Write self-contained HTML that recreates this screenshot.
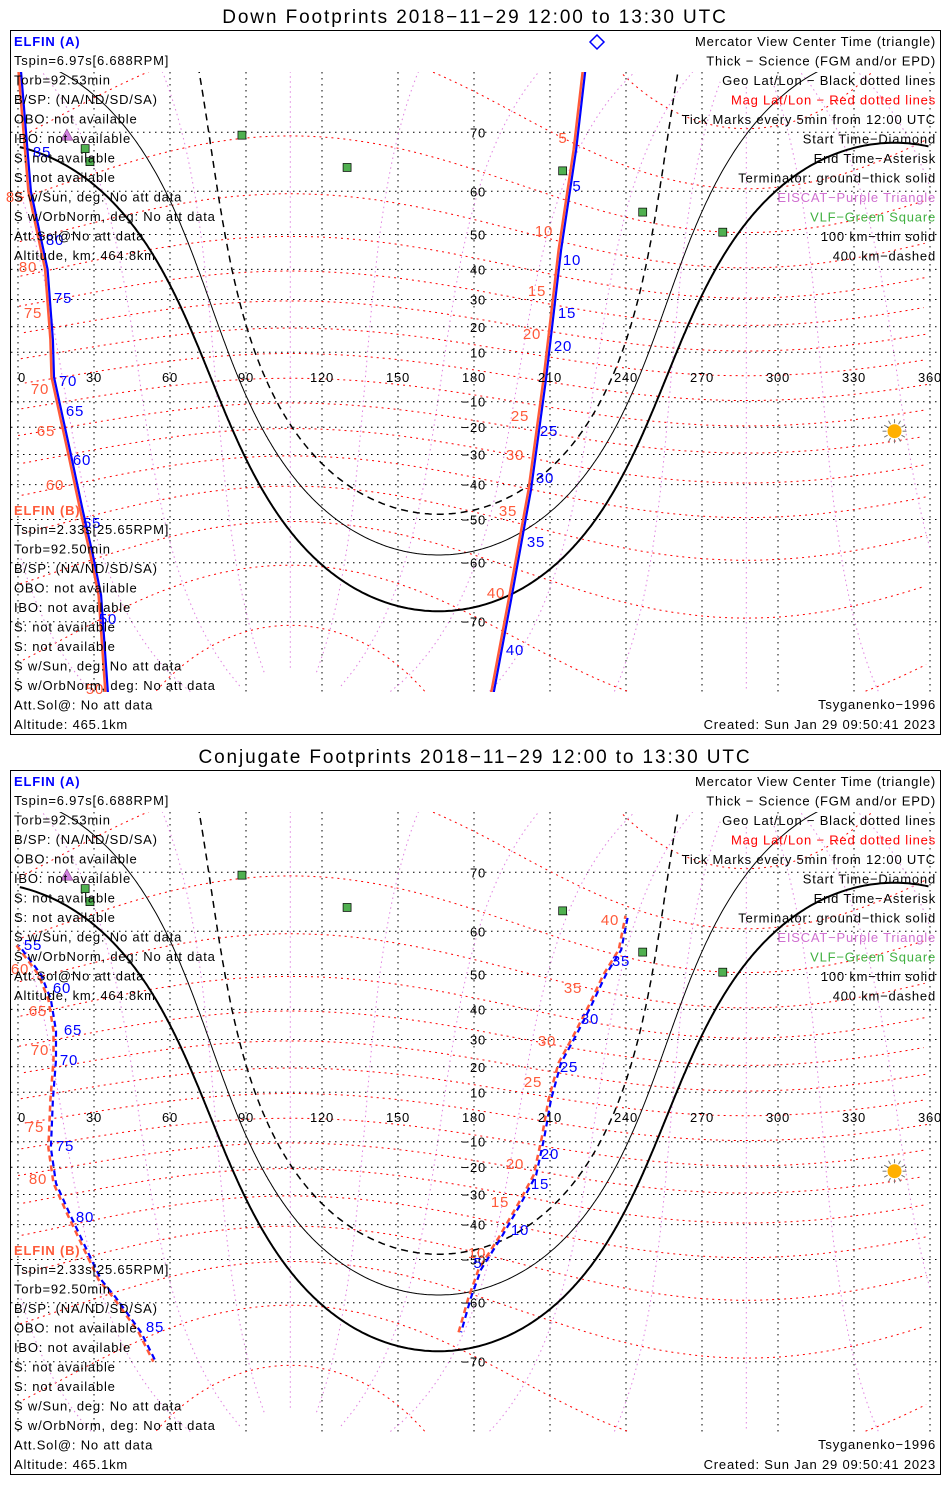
<!DOCTYPE html>
<html><head><meta charset="utf-8"><style>
body{margin:0;background:#fff;}
svg{display:block;font-family:"Liberation Sans",sans-serif;}
.t{font-size:13px;letter-spacing:0.8px;}
</style></head><body>
<svg id="s" width="950" height="1500" viewBox="0 0 950 1500"></svg>
<script>
// ---- data ----
const lonTicks=[0,30,60,90,120,150,180,210,240,270,300,330,360];
const latTicks=[-70,-60,-50,-40,-30,-20,-10,10,20,30,40,50,60,70];
const downALon=[0,4.7,11.3,13.4,13.8,17,20.5,25.3,29,32.4,35.5];
const downALat=[79,60,40,15,0,-15,-30,-48,-58,-66,-79];
const downBLon=[186.3,194.2,202.1,208,214,219.9,224.6];
const downBLat=[-79,-66.8,-41.6,-1.2,45.8,67.4,79];
const conjALon=[0,8.7,12.6,14.6,14.6,13.4,12.6,14.6,19.7,26.5,32.4,38.3,48.2,54];
const conjALat=[57,50,43,33,22.5,7,-12.5,-26,-36,-47,-55,-59,-65.5,-70];
const conjBLon=[174.5,178.4,182.4,190.3,198.2,204.1,207.3,210,214,219.9,225.8,231.7,237.7,240.4];
const conjBLat=[-65.5,-59,-52.5,-44,-33,-23,-8.5,7,21.5,31.5,41,50,56,63];
const vlfLon=[88.4,26.5,28.4,129.9,215,246.6,278.2];
const vlfLat=[69.6,67.6,65.5,64.5,63.9,55.5,50.6];
const eiscatLon=[19.7,19.3];
const eiscatLat=[78.5,69.6];
const sunLon=346, sunLat=-21.5;
const poleLat=80.5, poleLon=287.5;

const S=document.getElementById('s');
const NS='http://www.w3.org/2000/svg';
function el(t,a,p){const e=document.createElementNS(NS,t);for(const k in a)e.setAttribute(k,a[k]);(p||S).appendChild(e);return e;}
const R=Math.PI/180;
const X=lon=>18+lon*912/360;
function Y(lat,dy){lat=Math.max(-85,Math.min(85,lat));return dy+377-141*Math.log(Math.tan(Math.PI/4+lat*R/2));}
function pathFrom(pts,dy){let d='',prev=null;for(const[lo,la]of pts){let l=((lo%360)+360)%360;const x=X(l),y=Y(la,dy);d+=(prev===null||Math.abs(x-prev)>400)?`M${x.toFixed(1)},${y.toFixed(1)}`:`L${x.toFixed(1)},${y.toFixed(1)}`;prev=x;}return d;}
function mag2geo(mla,mlo){const th=(90-poleLat)*R;let x=Math.cos(mla*R)*Math.cos(mlo*R),y=Math.cos(mla*R)*Math.sin(mlo*R),z=Math.sin(mla*R);
 const x1=x*Math.cos(th)+z*Math.sin(th),z1=-x*Math.sin(th)+z*Math.cos(th);const lp=poleLon*R;
 const x2=x1*Math.cos(lp)-y*Math.sin(lp),y2=x1*Math.sin(lp)+y*Math.cos(lp);return [Math.atan2(y2,x2)/R,Math.asin(z1)/R];}
function termPts(dip){const aLat=-sunLat*R,aLon=(sunLon+180)*R,r=(90-dip)*R,pts=[];
 for(let i=0;i<=720;i++){const t=i/720*2*Math.PI;const la=Math.asin(Math.sin(aLat)*Math.cos(r)+Math.cos(aLat)*Math.sin(r)*Math.cos(t));
 const lo=aLon+Math.atan2(Math.sin(t)*Math.sin(r)*Math.cos(aLat),Math.cos(r)-Math.sin(aLat)*Math.sin(la));pts.push([lo/R,la/R]);}
 pts.sort((a,b)=>(((a[0]%360)+360)%360)-(((b[0]%360)+360)%360));return pts;}
function txt(x,y,s,a,p,c){const e=el('text',Object.assign({x,y,class:'t'},a||{}),p);e.style.fill=c||'#000';e.textContent=s;return e;}

const leftA=["Tspin=6.97s[6.688RPM]","Torb=92.53min","B/SP: (NA/ND/SD/SA)","OBO: not available","IBO: not available","S: not available","S: not available","S w/Sun, deg: No att data","S w/OrbNorm, deg: No att data","Att.Sol@No att data","Altitude, km: 464.8km"];
const leftB=["Tspin=2.33s[25.65RPM]","Torb=92.50min","B/SP: (NA/ND/SD/SA)","OBO: not available","IBO: not available","S: not available","S: not available","S w/Sun, deg: No att data","S w/OrbNorm, deg: No att data","Att.Sol@: No att data","Altitude: 465.1km"];
const rightL=[["Mercator View Center Time (triangle)","#000"],["Thick \u2212 Science (FGM and/or EPD)","#000"],["Geo Lat/Lon \u2212 Black dotted lines","#000"],["Mag Lat/Lon \u2212 Red dotted lines","#f00"],["Tick Marks every 5min from 12:00 UTC","#000"],["Start Time\u2212Diamond","#000"],["End Time\u2212Asterisk","#000"],["Terminator: ground\u2212thick solid","#000"],["EISCAT\u2212Purple Triangle","#d070d0"],["VLF\u2212Green Square","#40b040"],["100 km\u2212thin solid","#000"],["400 km\u2212dashed","#000"]];

function panel(dy,title,conj,aLon,aLat,bLon,bLat,labels){
 const g=el('g',{});
 
 
 const tt=txt(475,dy+23,title,{'text-anchor':'middle',style:'font-size:19px;letter-spacing:1.9px'},g);
 tt.style.fill='#000';
 
 const box=el('rect',{x:10.5,y:dy+30.5,width:930,height:704,fill:'none',stroke:'#000'},g);
 
 const cid='c'+dy;const cp=el('clipPath',{id:cid},g);el('rect',{x:11,y:dy+72,width:929,height:620},cp);
 const m=el('g',{'clip-path':`url(#${cid})`},g);
 for(const lo of lonTicks){const l=el('line',{x1:X(lo),x2:X(lo),y1:dy+72,y2:dy+692,stroke:'#000','stroke-dasharray':'1.5 4.5'},m);
  }
 for(const la of latTicks){const l=el('line',{x1:11,x2:940,y1:Y(la,dy),y2:Y(la,dy),stroke:'#000','stroke-dasharray':'1.5 4.5'},m);
  }
 for(let ml=-80;ml<=80;ml+=10){const pts=[];for(let o=0;o<=360;o+=3)pts.push(mag2geo(ml,o));pts.sort((a,b)=>(((a[0]%360)+360)%360)-(((b[0]%360)+360)%360));
  const p=el('path',{d:pathFrom(pts,dy),fill:'none',stroke:'#f00','stroke-dasharray':'2 4'},m);
  }
 for(let mo=0;mo<360;mo+=30){const pts=[];for(let a=-85;a<=85;a+=2)pts.push(mag2geo(a,mo));
  const p=el('path',{d:pathFrom(pts,dy),fill:'none',stroke:'#e080e0','stroke-dasharray':'1.5 3.5'},m);
  }
 const t0=el('path',{d:pathFrom(termPts(0),dy),fill:'none',stroke:'#000','stroke-width':2},m);
 
 const t1=el('path',{d:pathFrom(termPts(10.1),dy),fill:'none',stroke:'#000','stroke-width':1},m);
 
 const t2=el('path',{d:pathFrom(termPts(19.9),dy),fill:'none',stroke:'#000','stroke-width':1.5,'stroke-dasharray':'7 5'},m);
 
 function track(lo,la,name){const pts=lo.map((v,i)=>[v,la[i]]);const d=pathFrom(pts,dy);
  const r=el('path',{d,fill:'none',stroke:'#ff5a3a','stroke-width':2.5,transform:'translate(-1.5,0)'},m);
  const b=el('path',{d,fill:'none',stroke:'#0000ff','stroke-width':2.2,transform:'translate(1,0)'},m);
  if(conj){r.setAttribute('stroke-dasharray','6 4');b.setAttribute('stroke-dasharray','6 4');b.setAttribute('stroke-dashoffset','5');}
  
  }
 track(aLon,aLat,'track-left');track(bLon,bLat,'track-right');
 vlfLon.forEach((lo,i)=>{const s=el('rect',{x:X(lo)-4,y:Y(vlfLat[i],dy)-4,width:8,height:8,fill:'#50b050',stroke:'#000','stroke-width':0.7},m);
  });
 eiscatLon.forEach((lo,i)=>{const x=X(lo),y=Y(eiscatLat[i],dy);const s=el('path',{d:`M${x},${y-6}L${x+6},${y+5}L${x-6},${y+5}Z`,fill:'#d080e0',stroke:'#804080','stroke-width':0.6},m);
  });
 const sx=X(sunLon),sy=Y(sunLat,dy);const sun=el('g',{},g);
 for(let a=0;a<360;a+=30)el('line',{x1:sx+8*Math.cos(a*R),y1:sy+8*Math.sin(a*R),x2:sx+12*Math.cos(a*R),y2:sy+12*Math.sin(a*R),stroke:'#777'},sun);
 el('circle',{cx:sx,cy:sy,r:7,fill:'#ffb000'},sun);
 lonTicks.forEach(lo=>{const e=txt(X(lo),dy+382,String(lo),{'text-anchor':lo==0?'start':'middle'},g);});
 latTicks.forEach(la=>{const e=txt(486,Y(la,dy)+5,String(la).replace('-','\u2212'),{'text-anchor':'end'},g);});
 labels.forEach(([s,x,y,c])=>{const e=txt(x,dy+y+5,s,{'text-anchor':'middle',style:'font-size:15px'},g,c);});
 let e=txt(14,dy+46,'ELFIN (A)',{'font-weight':'bold'},g,'#0000ff');
 leftA.forEach((s,i)=>{const e=txt(14,dy+65+i*19.5,s,{},g);});
 e=txt(14,dy+515,'ELFIN (B)',{'font-weight':'bold'},g,'#ff5a3a');
 leftB.forEach((s,i)=>{const e=txt(14,dy+534+i*19.5,s,{},g);});
 rightL.forEach(([s,c],i)=>{const e=txt(936,dy+46+i*19.5,s,{'text-anchor':'end'},g,c);});
 e=txt(936,dy+709,'Tsyganenko\u22121996',{'text-anchor':'end'},g);
 e=txt(936,dy+729,'Created: Sun Jan 29 09:50:41 2023',{'text-anchor':'end'},g);
}
const B='#0000ff',O='#ff5a3a';
panel(0,'Down Footprints 2018\u221211\u221229 12:00 to 13:30 UTC',false,downALon,downALat,downBLon,downBLat,
 [['85',42,152,B],['80',55,240,B],['75',63,298,B],['70',68,381,B],['65',75,411,B],['60',82,460,B],['55',92,523,B],['50',108,619,B],
  ['5',577,186,B],['10',572,260,B],['15',567,313,B],['20',563,346,B],['25',549,431,B],['30',545,478,B],['35',536,542,B],['40',515,650,B],
  ['85',15,197,O],['80',28,267,O],['75',33,313,O],['70',40,389,O],['65',46,431,O],['60',55,485,O],['50',95,689,O],
  ['5',563,138,O],['10',544,231,O],['15',537,291,O],['20',532,334,O],['25',520,416,O],['30',515,455,O],['35',508,511,O],['40',496,593,O]]);
const dm=el('path',{d:'M597,35L604,42L597,49L590,42Z',fill:'none',stroke:'#0000ff','stroke-width':1.5});

panel(740,'Conjugate Footprints 2018\u221211\u221229 12:00 to 13:30 UTC',true,conjALon,conjALat,conjBLon,conjBLat,
 [['55',33,205,B],['60',62,248,B],['65',73,290,B],['70',69,320,B],['75',65,406,B],['80',85,477,B],['85',155,587,B],
  ['5',478,523,B],['10',520,490,B],['15',540,444,B],['20',550,414,B],['25',569,327,B],['30',590,279,B],['35',621,221,B],
  ['60',20,229,O],['65',38,271,O],['70',40,310,O],['75',35,387,O],['80',38,439,O],
  ['10',477,513,O],['15',500,462,O],['20',515,424,O],['25',533,342,O],['30',547,301,O],['35',573,248,O],['40',610,180,O]]);
</script>
</body></html>
